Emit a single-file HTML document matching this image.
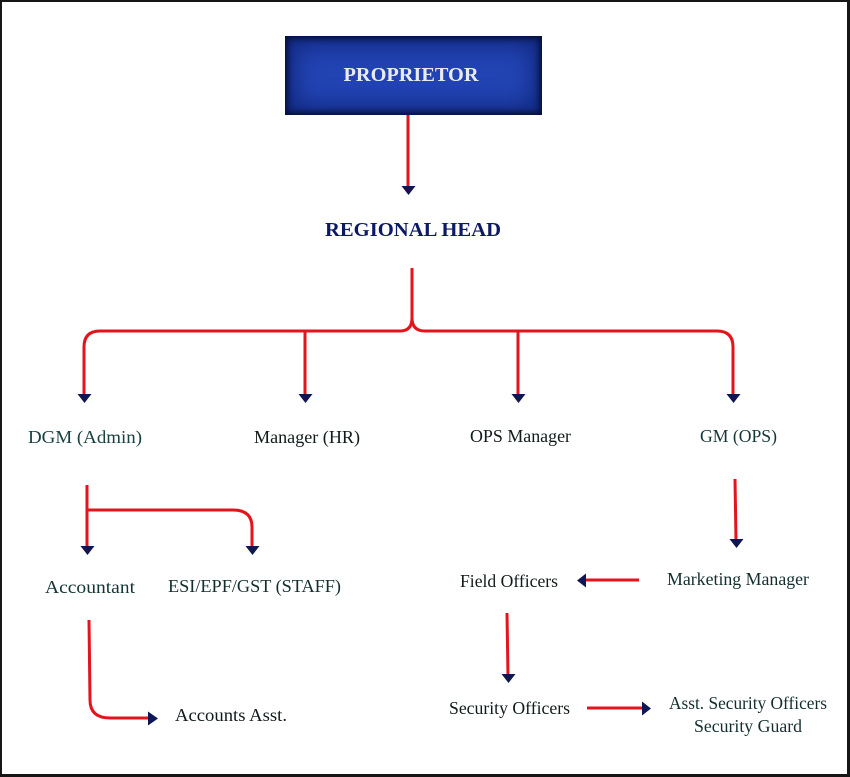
<!DOCTYPE html>
<html>
<head>
<meta charset="utf-8">
<style>
html,body{margin:0;padding:0;background:#fff;}
#wrap{position:relative;width:850px;height:777px;overflow:hidden;background:#fff;}
#frame{position:absolute;left:0;top:0;width:850px;height:777px;box-sizing:border-box;border-left:2px solid #161616;border-top:2px solid #161616;border-right:3px solid #161616;border-bottom:3px solid #161616;}
#prop{position:absolute;left:285px;top:36px;width:257px;height:79px;background:#2244b4;
box-shadow:inset 0 0 6px 3px #07103a, inset 0 0 24px 10px rgba(12,28,105,0.7);
}
svg{position:absolute;left:0;top:0;}
text{font-family:"Liberation Serif",serif;}
</style>
</head>
<body>
<div id="wrap">
<div id="prop"></div>
<svg width="850" height="777" viewBox="0 0 850 777">
<text x="411" y="81" text-anchor="middle" font-size="20" font-weight="bold" fill="#e8ebf2" textLength="135" lengthAdjust="spacingAndGlyphs">PROPRIETOR</text>

<g stroke="#e3141c" stroke-width="3" fill="none" stroke-linecap="butt">
<line x1="408" y1="115" x2="408" y2="188"/>
<path d="M412 268 L412 318 Q412 331 400 331 L100 331 Q84 331 84 347 L84 396"/>
<path d="M412 318 Q412 331 425 331 L717 331 Q733 331 733 347 L733 396"/>
<line x1="305" y1="331" x2="305" y2="396"/>
<line x1="518" y1="331" x2="518" y2="396"/>
<path d="M87 485 L87 548"/>
<path d="M87 510 L233 510 Q252 510 252 527 L252 548"/>
<path d="M89 620 L90 700 Q90 718 110 718 L149 718"/>
<line x1="735" y1="479" x2="736" y2="540"/>
<line x1="639" y1="580" x2="585" y2="580"/>
<line x1="507" y1="613" x2="508" y2="676"/>
<line x1="587" y1="708" x2="643" y2="708"/>
</g>

<g fill="#0e1656">
<polygon points="401.5,186 415.5,186 408.5,195"/>
<polygon points="77.5,394 91.5,394 84.5,403"/>
<polygon points="298.5,394 312.5,394 305.5,403"/>
<polygon points="511.5,394 525.5,394 518.5,403"/>
<polygon points="726.5,394 740.5,394 733.5,403"/>
<polygon points="80.5,546 94.5,546 87.5,555"/>
<polygon points="245.5,546 259.5,546 252.5,555"/>
<polygon points="148,711.5 148,725.5 158,718.5"/>
<polygon points="729.5,539 743.5,539 736.5,548"/>
<polygon points="586,573.5 586,587.5 577,580.5"/>
<polygon points="501.5,674 515.5,674 508.5,683"/>
<polygon points="642,701.5 642,715.5 651,708.5"/>
</g>

<text x="413" y="236" text-anchor="middle" font-size="20" font-weight="bold" fill="#0c1a66" textLength="176" lengthAdjust="spacingAndGlyphs">REGIONAL HEAD</text>

<g font-size="18" fill="#111a1a">
<text x="28" y="443" textLength="114" lengthAdjust="spacingAndGlyphs" fill="#1a4040">DGM (Admin)</text>
<text x="254" y="443" textLength="106" lengthAdjust="spacingAndGlyphs">Manager (HR)</text>
<text x="470" y="442" textLength="101" lengthAdjust="spacingAndGlyphs">OPS Manager</text>
<text x="700" y="442" textLength="77" lengthAdjust="spacingAndGlyphs" fill="#143838">GM (OPS)</text>
<text x="45" y="593" textLength="90" lengthAdjust="spacingAndGlyphs" fill="#143434">Accountant</text>
<text x="168" y="592" textLength="173" lengthAdjust="spacingAndGlyphs" fill="#142e2e">ESI/EPF/GST (STAFF)</text>
<text x="175" y="721" textLength="112" lengthAdjust="spacingAndGlyphs">Accounts Asst.</text>
<text x="667" y="585" textLength="142" lengthAdjust="spacingAndGlyphs" fill="#142e2e">Marketing Manager</text>
<text x="460" y="587" textLength="98" lengthAdjust="spacingAndGlyphs">Field Officers</text>
<text x="449" y="714" textLength="121" lengthAdjust="spacingAndGlyphs">Security Officers</text>
<text x="669" y="709" textLength="158" lengthAdjust="spacingAndGlyphs" fill="#142e2e">Asst. Security Officers</text>
<text x="694" y="732" textLength="108" lengthAdjust="spacingAndGlyphs" fill="#142e2e">Security Guard</text>
</g>
</svg>
<div id="frame"></div>
</div>
</body>
</html>
